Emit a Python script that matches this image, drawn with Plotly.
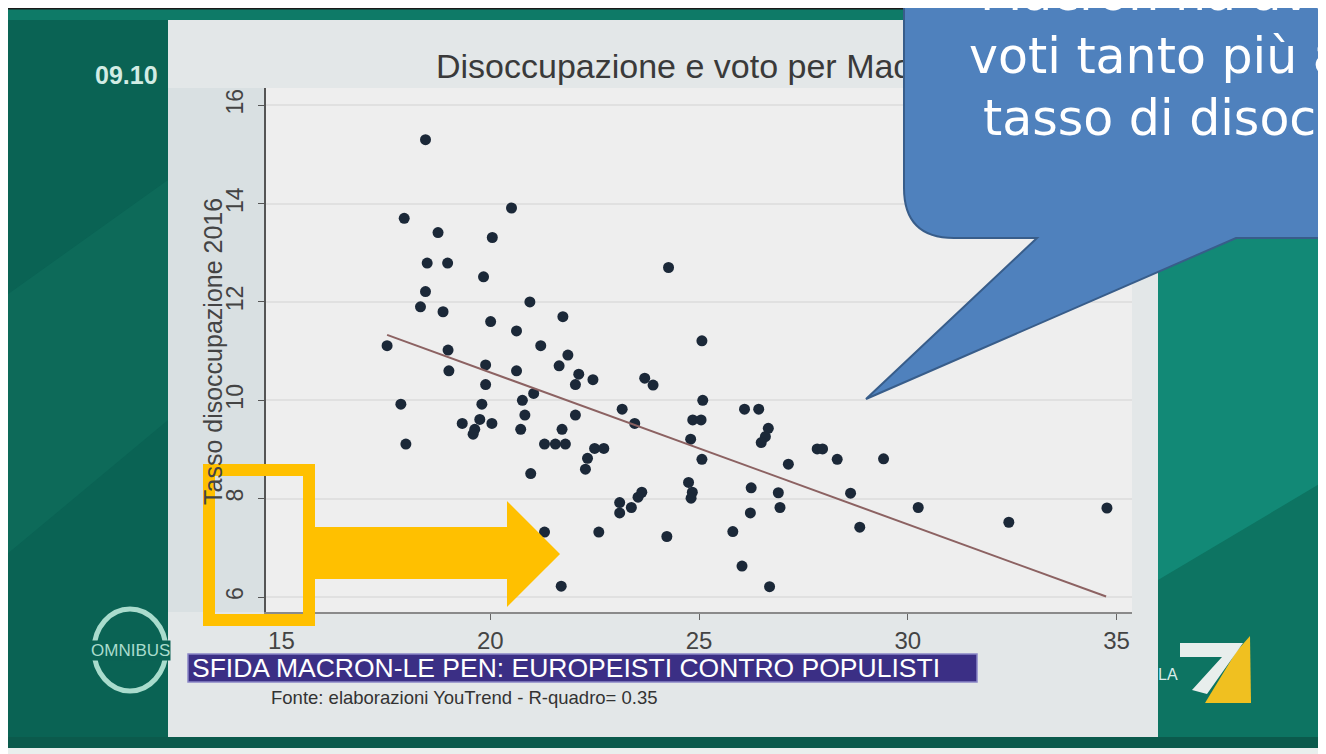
import plotly.graph_objects as go

# voto Macron (%) e tasso di disoccupazione 2016 per dipartimento
voto = [18.45, 17.94, 20.51, 18.75, 20.05, 18.49, 18.98, 19.84, 18.45, 18.33,
        18.87, 20.95, 21.74, 20.01, 20.63, 17.53, 18.99, 21.21, 21.86, 19.01,
        19.89, 19.89, 20.63, 21.65, 22.12, 22.04, 22.46, 21.04, 20.77, 17.86,
        19.80, 20.83, 19.75, 19.33, 20.04, 19.63, 19.59, 20.73, 22.04, 21.72,
        17.98, 21.30, 21.56, 21.80, 22.50, 22.72, 22.33, 22.28, 20.97, 21.30,
        22.60, 21.70, 24.27, 25.07, 23.70, 23.90, 25.09, 23.16, 23.46, 26.09,
        26.43, 24.85, 25.05, 26.66, 26.59, 26.49, 24.80, 25.07, 27.14, 27.83,
        27.96, 28.31, 24.75, 24.84, 24.81, 26.25, 26.90, 26.94, 26.23, 23.10,
        23.10, 23.38, 23.54, 23.63, 24.23, 25.81, 26.03, 26.69, 29.42, 28.63,
        30.25, 34.77, 32.42, 28.85]
disocc = [15.30, 13.70, 13.91, 13.41, 13.31, 12.79, 12.79, 12.51, 12.21, 11.90,
          11.80, 12.00, 11.70, 11.60, 11.41, 11.11, 11.02, 11.11, 10.92, 10.60,
          10.72, 10.32, 10.60, 10.70, 10.53, 10.32, 10.42, 10.14, 10.00, 9.92,
          9.92, 9.70, 9.61, 9.53, 9.53, 9.41, 9.31, 9.41, 9.70, 9.41,
          9.11, 9.11, 9.11, 9.11, 9.02, 9.02, 8.82, 8.60, 8.51, 7.32,
          7.32, 6.22, 12.70, 11.21, 10.45, 10.31, 10.00, 9.82, 9.53, 9.82,
          9.82, 9.60, 9.60, 9.43, 9.26, 9.14, 9.21, 8.80, 8.70, 9.01,
          9.01, 8.80, 8.33, 8.13, 8.01, 8.22, 8.12, 7.82, 7.71, 7.92,
          7.71, 7.82, 8.03, 8.13, 7.23, 7.33, 6.63, 6.21, 8.81, 8.11,
          7.82, 7.81, 7.52, 7.42]
assert len(voto) == len(disocc)

# retta di regressione (estremi)
retta_x = [17.53, 34.75]
retta_y = [11.33, 6.01]

x_ticks = [15, 20, 25, 30, 35]
y_ticks = [6, 8, 10, 12, 14, 16]

# la pagina ha 8px di margine: la figura parte da (8, 8)
OFF = 8
W, H = 1326 - OFF, 754 - OFF
FONT = 'Liberation Sans, Arial, sans-serif'


def fx(x):
    return (x - OFF) / W


def fy(y):
    return 1 - (y - OFF) / H


fig = go.Figure()

fig.add_trace(go.Scatter(x=voto, y=disocc, mode='markers',
                         marker=dict(size=11, color='#1b2838'),
                         showlegend=False, hoverinfo='skip'))
fig.add_trace(go.Scatter(x=retta_x, y=retta_y, mode='lines',
                         line=dict(color='#8c6262', width=2),
                         showlegend=False, hoverinfo='skip'))

# titolo del grafico come traccia di testo, cosi' il fumetto lo copre
fig.add_trace(go.Scatter(x=[436], y=[69], mode='text',
                         text=['Disoccupazione e voto per Macron'],
                         textposition='middle right',
                         textfont=dict(family=FONT, size=34, color='#3a3a3a'),
                         xaxis='x2', yaxis='y2', cliponaxis=False,
                         showlegend=False, hoverinfo='skip'))

shapes = []


def rect(x0, y0, x1, y1, fill, line=None, lw=0, layer='below'):
    shapes.append(dict(type='rect', xref='paper', yref='paper',
                       x0=fx(x0), y0=fy(y0), x1=fx(x1), y1=fy(y1),
                       fillcolor=fill, line=dict(color=line or fill, width=lw), layer=layer))


def path(cmds, fill, line=None, lw=0, layer='below'):
    # cmds: lista di (comando, [(x, y), ...]) in pixel
    d = ''
    for c, pts in cmds:
        d += c + ' ' + ' '.join('%.5f,%.5f' % (fx(x), fy(y)) for x, y in pts) + ' '
    d += 'Z'
    shapes.append(dict(type='path', xref='paper', yref='paper', path=d, fillcolor=fill,
                       line=dict(color=line or fill, width=lw), layer=layer))


def poly(pts, fill, **kw):
    path([('M', [pts[0]])] + [('L', [p]) for p in pts[1:]], fill, **kw)


# sfondo TV
rect(0, 0, 168, 754, '#0a6354')
rect(1158, 0, 1326, 754, '#0d7462')
poly([(1158, 270), (1326, 170), (1326, 480), (1158, 580)], 'rgba(25,165,145,0.45)')
poly([(0, 300), (168, 180), (168, 420), (0, 560)], 'rgba(20,120,100,0.35)')
rect(0, 8, 1326, 20, '#0e7a67')
rect(0, 8, 1326, 9.5, '#1a1a1a')
rect(0, 737, 1326, 748, '#0b5a4c')
rect(0, 748, 1326, 754, '#e9efed')
# pannello del grafico
rect(168, 20, 1158, 737, '#e3e7e8')
rect(168, 88, 266, 612, '#d9e0e2')
rect(266, 88, 1132, 612, '#eeeeee')

# fascia del titolo TV
rect(188, 654, 977, 682, '#3b2f85', '#8a86c6', 1.5, layer='above')
# logo OMNIBUS
shapes.append(dict(type='circle', xref='paper', yref='paper',
                   x0=fx(94), x1=fx(166), y0=fy(609), y1=fy(691),
                   line=dict(color='#a9dccd', width=5), layer='above'))
# logo LA7
poly([(1250, 636), (1251, 703), (1205, 703), (1236, 652)], '#f0c020', layer='above')
poly([(1180, 643), (1243, 643), (1207, 694), (1192, 690), (1222, 657), (1180, 657)],
     '#e8eeec', layer='above')

# rettangolo e freccia arancioni
shapes.append(dict(type='rect', xref='paper', yref='paper',
                   x0=fx(209), x1=fx(309), y0=fy(470), y1=fy(620),
                   line=dict(color='#ffc000', width=12), layer='above'))
poly([(313, 527), (507, 527), (507, 501), (560, 554), (507, 607), (507, 579), (313, 579)],
     '#ffc000', layer='above')

# fumetto blu
path([('M', [(904, -20)]), ('L', [(904, 188)]), ('Q', [(904, 238), (954, 238)]),
      ('L', [(1037, 238)]), ('L', [(866, 399)]), ('L', [(1236, 238)]),
      ('L', [(1346, 238)]), ('L', [(1346, -20)])],
     '#4f81bd', '#385d8a', 2, layer='above')

ann = []


def text(x, y, s, size, color, anchor='left', bold=False, family=FONT, **kw):
    if bold:
        s = '<b>' + s + '</b>'
    ann.append(dict(xref='paper', yref='paper', x=fx(x), y=fy(y), text=s, showarrow=False,
                    xanchor=anchor, yanchor='middle',
                    font=dict(family=family, size=size, color=color), **kw))


text(213, 352, 'Tasso disoccupazione 2016', 25, '#444444', anchor='center', textangle=-90)
text(126, 75, '09.10', 25, '#d2ece4', anchor='center', bold=True)
text(190, 668, 'SFIDA MACRON-LE PEN: EUROPEISTI CONTRO POPULISTI', 26.5, '#ffffff')
text(269, 697, 'Fonte: elaborazioni YouTrend - R-quadro= 0.35', 18.5, '#333333')
text(131, 650, 'OMNIBUS', 17, '#a9dccd', anchor='center', bgcolor='#0a6354', borderpad=0)
text(1168, 674, 'LA', 16, '#d8ecea', anchor='center')

CALL = 'DejaVu Sans, sans-serif'
text(978, -7, 'Macron ha avuto più', 49, '#ffffff', family=CALL)
text(967, 56, 'voti tanto più alto', 49, '#ffffff', family=CALL)
text(981, 119, 'tasso di disoccupazione', 49, '#ffffff', family=CALL)

fig.update_layout(
    width=W, height=H, autosize=False,
    margin=dict(l=0, r=0, t=0, b=0),
    paper_bgcolor='#0b6b5a', plot_bgcolor='rgba(0,0,0,0)',
    shapes=shapes, annotations=ann, showlegend=False,
    xaxis=dict(domain=[fx(266), fx(1132)], range=[14.63, 35.37],
               tickvals=x_ticks, ticks='outside', ticklen=6, tickcolor='#666666',
               showline=True, linecolor='#8a8a8a', linewidth=2,
               showgrid=False, zeroline=False, automargin=False,
               tickfont=dict(family=FONT, size=24, color='#444444'),
               ticklabelstandoff=0),
    yaxis=dict(domain=[fy(612), fy(88)], range=[5.695, 16.35],
               tickvals=y_ticks, ticks='outside', ticklen=6, tickcolor='#555555',
               tickangle=-90, showline=True, linecolor='#555555', linewidth=1.5,
               showgrid=True, gridcolor='#e0e0e0', gridwidth=2,
               zeroline=False, automargin=False,
               tickfont=dict(family=FONT, size=23, color='#444444'),
               ticklabelstandoff=6),
    xaxis2=dict(domain=[0, 1], range=[OFF, 1326], anchor='y2', visible=False,
                fixedrange=True),
    yaxis2=dict(domain=[0, 1], range=[754, OFF], anchor='x2', visible=False,
                fixedrange=True),
)

fig.write_html('out.html')
